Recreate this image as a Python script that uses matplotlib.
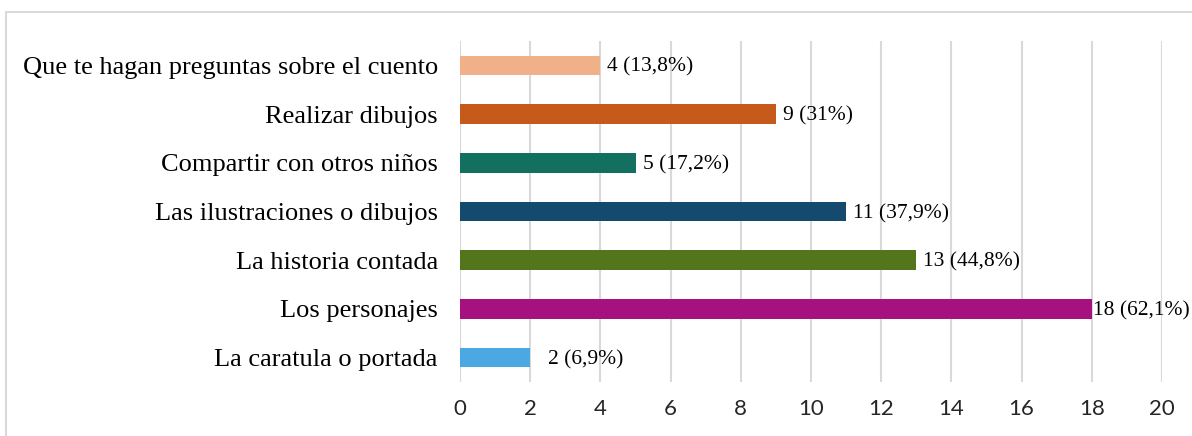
import matplotlib.pyplot as plt
from matplotlib.patches import Rectangle

categorias = ["La caratula o portada", "Los personajes", "La historia contada",
              "Las ilustraciones o dibujos", "Compartir con otros niños",
              "Realizar dibujos", "Que te hagan preguntas sobre el cuento"]
valores = [2, 18, 13, 11, 5, 9, 4]
etiquetas = ["2 (6,9%)", "18 (62,1%)", "13 (44,8%)", "11 (37,9%)",
             "5 (17,2%)", "9 (31%)", "4 (13,8%)"]
colores = ["#4BA8E3", "#A5117E", "#53751B", "#144A6E", "#137060", "#C55A1B", "#F0B088"]

fig = plt.figure(figsize=(11.92, 4.36), dpi=100)
ax = fig.add_axes([460 / 1192, 1 - 382 / 436, 702 / 1192, 341 / 436])

pos = range(len(categorias))
ax.barh(pos, valores, height=0.4, color=colores, zorder=3)

ax.set_xlim(0, 20)
ax.set_ylim(-0.5, 6.5)
ax.set_xticks(range(0, 21, 2))
ax.set_yticks(list(pos))
ax.set_yticklabels(categorias, family="Liberation Serif", fontsize=19)
for t in ax.get_xticklabels():
    t.set_family("Lato")
    t.set_fontsize(16)
    t.set_color("#262626")
ax.tick_params(axis="both", length=0)
ax.tick_params(axis="y", pad=16)
ax.tick_params(axis="x", pad=12)
ax.grid(axis="x", color="#d9d9d9", linewidth=1.5, zorder=0)
for s in ax.spines.values():
    s.set_visible(False)

for i, (v, lab) in enumerate(zip(valores, etiquetas)):
    dx = 0.5 if v == 2 else 0.2
    if v == 18:
        dx = 0.02
    ax.text(v + dx, i - 0.04, lab, va="center", ha="left", family="Liberation Serif",
            fontsize=15.5, color="#000000", zorder=4, clip_on=False)

fig.patches.append(Rectangle((6 / 1192, -0.1), 1.2, 1 - 12 / 436 + 0.1,
                             transform=fig.transFigure, fill=False,
                             edgecolor="#d9d9d9", linewidth=1.5))

fig.savefig("out.png", dpi=100)
